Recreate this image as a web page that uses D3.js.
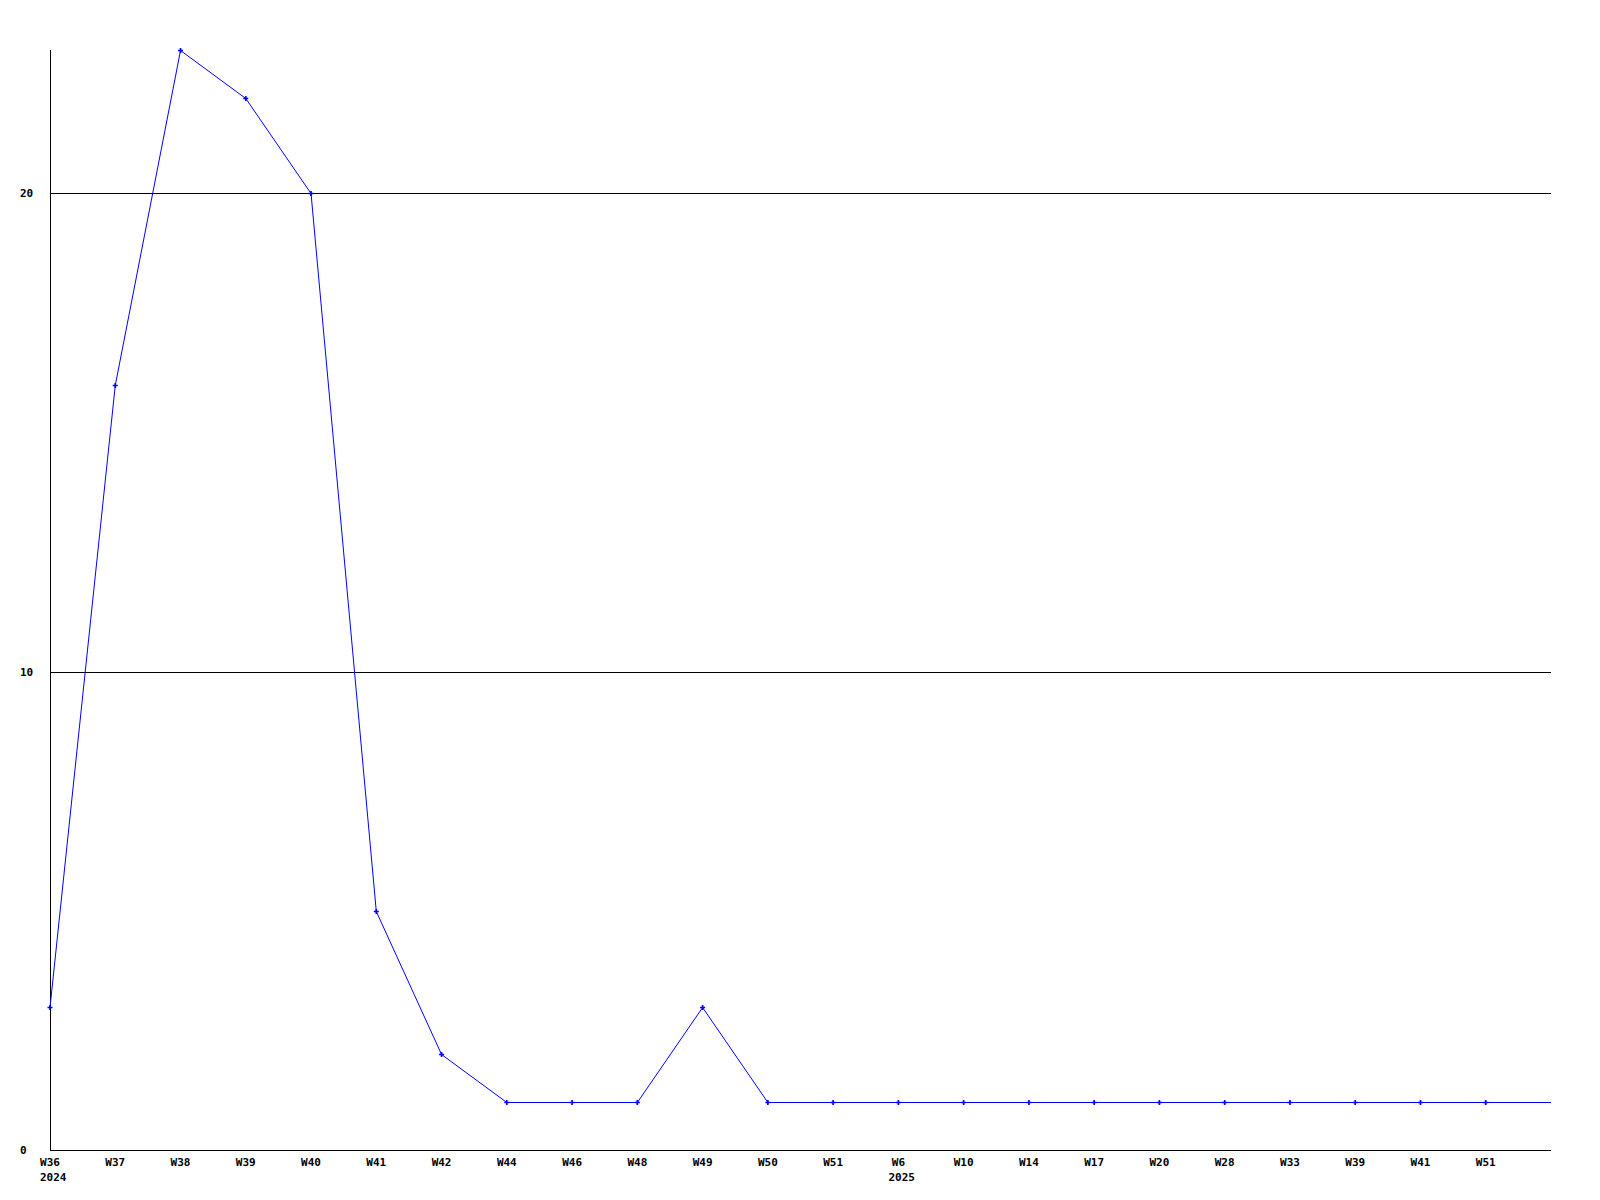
<!DOCTYPE html>
<html>
<head>
<meta charset="utf-8">
<script src="https://cdn.jsdelivr.net/npm/d3@7"></script>
<style>
  html, body { margin: 0; padding: 0; background: #fff; }
  svg text { font-family: "DejaVu Sans Mono", "Liberation Mono", monospace; font-weight: bold; font-size: 11px; fill: #000; }
</style>
</head>
<body>
<div id="chart"></div>
<script>
// week labels along the bottom
var weeks = ["W36","W37","W38","W39","W40","W41","W42","W44","W46","W48","W49","W50",
             "W51","W6","W10","W14","W17","W20","W28","W33","W39","W41","W51"];
// year shown under the first week of each year
var years = [{idx: 0, label: "2024"}, {idx: 13, label: "2025"}];
// counts per week
var counts = [3, 16, 23, 22, 20, 5, 2, 1, 1, 1, 3, 1, 1, 1, 1, 1, 1, 1, 1, 1, 1, 1, 1];
var yTicks = [0, 10, 20];

var width = 1600, height = 1200;
// plot box (note: "top" is taken by window.top, so use plot*)
var plotLeft = 50, plotRight = 1551, plotTop = 50, plotBottom = 1150;

var svg = d3.select("#chart").append("svg")
  .attr("width", width)
  .attr("height", height);

// one extra slot to the right, the line runs on to the edge
var x = d3.scaleLinear().domain([0, weeks.length]).range([plotLeft, plotRight]);
var y = d3.scaleLinear().domain([0, d3.max(counts)]).range([plotBottom, plotTop]);

// gridlines
svg.selectAll(".grid")
  .data(yTicks.filter(function(d){ return d > 0; }))
  .enter().append("line")
  .attr("x1", plotLeft).attr("x2", plotRight)
  .attr("y1", function(d){ return Math.round(y(d)) + 0.5; })
  .attr("y2", function(d){ return Math.round(y(d)) + 0.5; })
  .attr("stroke", "#000")
  .attr("shape-rendering", "crispEdges");

// axes lines
svg.append("line")
  .attr("x1", plotLeft + 0.5).attr("x2", plotLeft + 0.5)
  .attr("y1", plotTop).attr("y2", plotBottom)
  .attr("stroke", "#000").attr("shape-rendering", "crispEdges");
svg.append("line")
  .attr("x1", plotLeft).attr("x2", plotRight)
  .attr("y1", plotBottom + 0.5).attr("y2", plotBottom + 0.5)
  .attr("stroke", "#000").attr("shape-rendering", "crispEdges");

// y labels
svg.selectAll(".ylab")
  .data(yTicks)
  .enter().append("text")
  .attr("x", 20)
  .attr("y", function(d){ return y(d) + 4; })
  .text(function(d){ return d; });

// x labels
svg.selectAll(".xlab")
  .data(weeks)
  .enter().append("text")
  .attr("x", function(d, i){ return x(i); })
  .attr("y", 1166)
  .attr("text-anchor", "middle")
  .text(function(d){ return d; });

svg.selectAll(".year")
  .data(years)
  .enter().append("text")
  .attr("x", function(d){ return x(d.idx) - 10; })
  .attr("y", 1181)
  .text(function(d){ return d.label; });

// series line, extended to the right edge with the last value
var linePts = counts.map(function(d, i){ return [i, d]; });
linePts.push([weeks.length, counts[counts.length - 1]]);

var line = d3.line()
  .x(function(d){ return x(d[0]); })
  .y(function(d){ return Math.round(y(d[1])) + 0.5; });

svg.append("path")
  .datum(linePts)
  .attr("d", line)
  .attr("fill", "none")
  .attr("stroke", "#0000ff")
  .attr("stroke-width", 1);

// point markers
svg.selectAll(".pt")
  .data(counts)
  .enter().append("path")
  .attr("d", d3.symbol().type(d3.symbolCross).size(14))
  .attr("transform", function(d, i){
    return "translate(" + x(i) + "," + (Math.round(y(d)) + 0.5) + ")";
  })
  .attr("fill", "#0000ff");
</script>
</body>
</html>
